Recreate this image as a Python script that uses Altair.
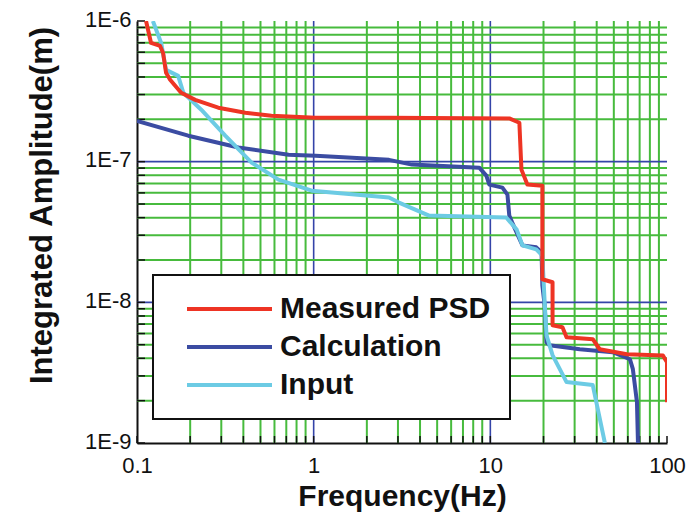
import altair as alt
import pandas as pd

# ---------------- data ----------------
series_names = ["Measured PSD", "Calculation", "Input"]

meas_f = [0.1125, 0.1201, 0.1351, 0.1405, 0.1461, 0.154, 0.1778, 0.2135, 0.2884, 0.4102,
          0.5769, 1.025, 2.67, 12.8, 14.6, 15.0, 16.2, 19.7, 19.7, 22.5, 22.5, 25.6, 27.0,
          38.0, 41.6, 59.3, 94.9, 100.0, 100.0]
meas_a = [1.0e-6, 6.98e-7, 6.65e-7, 5.93e-7, 4.28e-7, 3.82e-7, 3.09e-7, 2.75e-7, 2.42e-7, 2.23e-7,
          2.12e-7, 2.05e-7, 2.05e-7, 2.03e-7, 1.89e-7, 8.78e-8, 6.87e-8, 6.74e-8, 1.46e-8, 1.39e-8,
          6.87e-9, 6.65e-9, 5.65e-9, 5.47e-9, 4.64e-9, 4.28e-9, 4.18e-9, 3.75e-9, 1.95e-9]

calc_f = [0.1, 0.195, 0.375, 0.721, 1.025, 2.67, 3.60, 8.66, 9.49, 9.87, 11.7, 12.5, 12.8, 13.3,
          14.1, 15.2, 18.2, 19.5, 19.7, 20.3, 20.8, 21.6, 32.1, 49.3, 61.7, 64.1, 67.6, 68.5]
calc_a = [1.95e-7, 1.53e-7, 1.26e-7, 1.12e-7, 1.10e-7, 1.03e-7, 9.53e-8, 9.07e-8, 7.96e-8, 6.87e-8,
          6.54e-8, 5.83e-8, 4.14e-8, 3.69e-8, 3.13e-8, 2.54e-8, 2.46e-8, 2.26e-8, 1.32e-8, 9.52e-9,
          5.20e-9, 4.96e-9, 4.64e-9, 4.42e-9, 3.94e-9, 3.35e-9, 1.95e-9, 1.0e-9]

inp_f = [0.123, 0.137, 0.146, 0.171, 0.183, 0.231, 0.316, 0.445, 0.632, 0.975, 2.67, 3.04, 4.50,
         12.3, 14.1, 15.2, 18.2, 19.7, 20.3, 20.8, 22.5, 27.0, 38.0, 44.5]
inp_a = [1.0e-6, 6.98e-7, 4.49e-7, 4.07e-7, 3.09e-7, 2.34e-7, 1.53e-7, 9.84e-8, 7.45e-8, 6.22e-8,
         5.56e-8, 5.12e-8, 4.14e-8, 4.01e-8, 3.29e-8, 2.54e-8, 2.38e-8, 2.15e-8, 1.0e-8, 5.83e-9,
         4.21e-9, 2.71e-9, 2.58e-9, 1.0e-9]

x_tick_values = [0.1, 1, 10, 100]
x_tick_labels = ["0.1", "1", "10", "100"]
y_tick_values = [1e-9, 1e-8, 1e-7, 1e-6]
y_tick_labels = ["1E-9", "1E-8", "1E-7", "1E-6"]

x_grid_major = [1, 10]
x_grid_minor = [m * d for d in [0.1, 1, 10] for m in range(2, 10)]
y_grid_major = [1e-8, 1e-7]
y_grid_minor = [m * d for d in [1e-9, 1e-8, 1e-7] for m in range(2, 10)]
x_ticks_all = x_grid_minor + x_tick_values
y_ticks_all = y_grid_minor + y_tick_values

# ---------------- styling ----------------
colors = ["#ee3424", "#3b4ca2", "#6ccbe4"]
widths = [4, 4, 2]
GREEN = "#47bb3d"
GRIDBLUE = "#3444a8"
FONT = "Liberation Sans"

W, H = 530, 422

frames = []
for name, f, a in [("Calculation", calc_f, calc_a), ("Input", inp_f, inp_a),
                   ("Measured PSD", meas_f, meas_a)]:
    frames.append(pd.DataFrame({"f": f, "a": a, "series": name, "order": range(len(f))}))
lines_df = pd.concat(frames, ignore_index=True)

xscale = alt.Scale(type="log", domain=[0.1, 100], nice=False)
yscale = alt.Scale(type="log", domain=[1e-9, 1e-6], nice=False)


def arr(vals, quote=False):
    if quote:
        return "[" + ",".join("'" + v + "'" for v in vals) + "]"
    return "[" + ",".join(repr(v) for v in vals) + "]"


x_axis = alt.Axis(
    values=x_tick_values,
    labelExpr=f"{arr(x_tick_labels, True)}[indexof({arr(x_tick_values)}, datum.value)]",
    title="Frequency(Hz)", grid=False, ticks=False, labelFlush=False, labelOverlap=False,
    labelFont=FONT, labelFontSize=22, labelColor="#111", labelPadding=12,
    titleFont=FONT, titleFontSize=30, titleFontWeight="bold", titleColor="#111",
    titleBaseline="alphabetic", titleY=62,
    domainColor="#111", domainWidth=2,
)
y_axis = alt.Axis(
    values=y_tick_values,
    labelExpr=f"{arr(y_tick_labels, True)}[indexof({arr(y_tick_values)}, datum.value)]",
    title="Integrated Amplitude(m)", grid=False, ticks=False, labelFlush=False, labelOverlap=False,
    labelFont=FONT, labelFontSize=22, labelColor="#111", labelPadding=6, labelOffset=-2,
    titleFont=FONT, titleFontSize=31, titleFontWeight="bold", titleColor="#111",
    titleBaseline="alphabetic", titleAlign="center", titleAngle=270, titleX=-86, titleY=184,
    domainColor="#111", domainWidth=2,
)

xg_minor = alt.Chart(pd.DataFrame({"v": x_grid_minor})).mark_rule(color=GREEN, strokeWidth=2).encode(
    x=alt.X("v:Q", scale=xscale, axis=x_axis))
xg_major = alt.Chart(pd.DataFrame({"v": x_grid_major})).mark_rule(color=GRIDBLUE, strokeWidth=1.6).encode(
    x=alt.X("v:Q", scale=xscale, axis=x_axis))
yg_minor = alt.Chart(pd.DataFrame({"v": y_grid_minor})).mark_rule(color=GREEN, strokeWidth=2).encode(
    y=alt.Y("v:Q", scale=yscale, axis=y_axis))
yg_major = alt.Chart(pd.DataFrame({"v": y_grid_major})).mark_rule(color=GRIDBLUE, strokeWidth=1.6).encode(
    y=alt.Y("v:Q", scale=yscale, axis=y_axis))

y_ticks = alt.Chart(pd.DataFrame({"v": y_ticks_all})).mark_rule(color="#111", strokeWidth=1.5).encode(
    y=alt.Y("v:Q", scale=yscale, axis=y_axis), x=alt.value(0), x2=alt.value(8))
x_ticks = alt.Chart(pd.DataFrame({"v": x_ticks_all})).mark_rule(color="#111", strokeWidth=1.5).encode(
    x=alt.X("v:Q", scale=xscale, axis=x_axis), y=alt.value(H), y2=alt.value(H - 7))

legend = alt.Legend(
    title=None, orient="none", legendX=16, legendY=254,
    symbolType="stroke", symbolSize=7225, clipHeight=30, symbolOffset=13,
    labelFont=FONT, labelFontSize=30, labelLimit=500,
    labelFontWeight="bold", labelColor="#111", labelOffset=6, rowPadding=8,
    padding=19, strokeColor="#111", fillColor="white",
    labelExpr="datum.label + '\u00a0\u00a0\u00a0\u00a0'",
)

lines = alt.Chart(lines_df).mark_line(clip=True, strokeJoin="round").encode(
    x=alt.X("f:Q", scale=xscale, axis=x_axis),
    y=alt.Y("a:Q", scale=yscale, axis=y_axis),
    color=alt.Color("series:N", scale=alt.Scale(domain=series_names, range=colors), legend=legend),
    strokeWidth=alt.StrokeWidth("series:N", scale=alt.Scale(domain=series_names, range=widths), legend=legend),
    detail="series:N",
    order="order:Q",
)

chart = alt.layer(xg_minor, xg_major, yg_minor, yg_major, y_ticks, x_ticks, lines).properties(
    width=W, height=H,
    autosize=alt.AutoSizeParams(type="none"),
    padding={"left": 129, "top": 13, "right": 20, "bottom": 70},
    background="white",
).configure_view(stroke=None).configure_legend(strokeWidth=2)

chart.save("out.html", embed_options={"renderer": "svg", "actions": False})
